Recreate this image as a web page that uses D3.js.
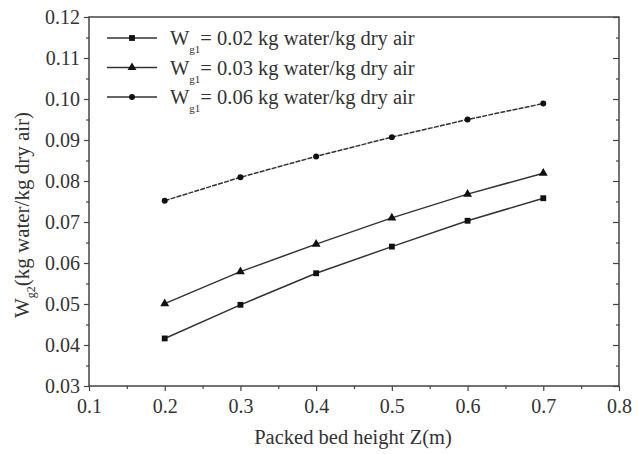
<!DOCTYPE html>
<html>
<head>
<meta charset="utf-8">
<script src="https://cdn.jsdelivr.net/npm/d3@7"></script>
<style>
  body { margin: 0; background: #fff; }
</style>
</head>
<body>
<svg id="chart" width="638" height="454"></svg>
<script>
// Chart data.
const heights = [0.2, 0.3, 0.4, 0.5, 0.6, 0.7];
const wg2Low = [0.0416, 0.0498, 0.0575, 0.0640, 0.0703, 0.0758];   // Wg1 = 0.02
const wg2Mid = [0.0501, 0.0579, 0.0646, 0.0710, 0.0768, 0.0819];   // Wg1 = 0.03
const wg2High = [0.0752, 0.0809, 0.0860, 0.0907, 0.0950, 0.0989];  // Wg1 = 0.06
const seriesLabels = ["0.02", "0.03", "0.06"];
const seriesShapes = ["square", "triangle", "circle"];
const xTicks = [0.1, 0.2, 0.3, 0.4, 0.5, 0.6, 0.7, 0.8];
const yTicks = [0.03, 0.04, 0.05, 0.06, 0.07, 0.08, 0.09, 0.10, 0.11, 0.12];

const FONT = '"Liberation Serif"';
const TEXT_COLOR = "#333";

const svg = d3.select("#chart");
const margin = { left: 89, right: 18, top: 17, bottom: 68 };
const width = 638, height = 454;
const axisColor = "#444";

const x = d3.scaleLinear().domain([0.1, 0.8]).range([margin.left, width - margin.right - 1]);
const y = d3.scaleLinear().domain([0.03, 0.12]).range([height - margin.bottom, margin.top]);

// Frame
svg.append("rect")
    .attr("x", x(0.1)).attr("y", y(0.12))
    .attr("width", x(0.8) - x(0.1)).attr("height", y(0.03) - y(0.12))
    .attr("fill", "none").attr("stroke", axisColor).attr("stroke-width", 1.5);

function minorTicks(major) {
    let out = [];
    for (let i = 0; i < major.length - 1; i++) out.push((major[i] + major[i + 1]) / 2);
    return out;
}

// Bottom axis
const xAxis = svg.append("g").attr("transform", `translate(0,${y(0.03)})`);
xAxis.call(d3.axisBottom(x).tickValues(xTicks).tickSize(5).tickFormat(d3.format(".1f")));
xAxis.append("g").call(d3.axisBottom(x).tickValues(minorTicks(xTicks)).tickSize(3).tickFormat(""));

// Left axis
const yAxis = svg.append("g").attr("transform", `translate(${x(0.1)},0)`);
yAxis.call(d3.axisLeft(y).tickValues(yTicks).tickSize(5).tickFormat(d3.format(".2f")));
yAxis.append("g").call(d3.axisLeft(y).tickValues(minorTicks(yTicks)).tickSize(3).tickFormat(""));

// Right axis (inward ticks)
const rAxis = svg.append("g").attr("transform", `translate(${x(0.8)},0)`);
rAxis.call(d3.axisLeft(y).tickValues(yTicks).tickSize(6).tickFormat(""));
rAxis.append("g").call(d3.axisLeft(y).tickValues(minorTicks(yTicks)).tickSize(3).tickFormat(""));

svg.selectAll(".domain").remove();
svg.selectAll(".tick line").attr("stroke", axisColor).attr("stroke-width", 1.2);
xAxis.attr("font-family", FONT);
yAxis.attr("font-family", FONT);
xAxis.selectAll(".tick text").attr("font-size", 20).attr("dy", "0.95em").attr("fill", TEXT_COLOR);
yAxis.selectAll(".tick text").attr("font-size", 20).attr("dy", "0.33em").attr("dx", "-1").attr("fill", TEXT_COLOR);

// Axis titles
svg.append("text")
    .attr("x", 353).attr("y", 444)
    .attr("text-anchor", "middle").attr("font-size", 20.5)
    .attr("font-family", FONT).attr("fill", TEXT_COLOR)
    .text("Packed bed height Z(m)");

const yTitle = svg.append("text")
    .attr("transform", `translate(29,215) rotate(-90)`)
    .attr("text-anchor", "middle").attr("font-size", 21)
    .attr("font-family", FONT).attr("fill", TEXT_COLOR);
yTitle.append("tspan").text("W");
yTitle.append("tspan").attr("font-size", 12).attr("dy", 6).text("g2");
yTitle.append("tspan").attr("dy", -6).text("(kg water/kg dry air)");

// Series
const series = [wg2Low, wg2Mid, wg2High].map((vals, i) => ({
    label: seriesLabels[i],
    shape: seriesShapes[i],
    points: heights.map((h, j) => ({ h: h, v: vals[j] }))
}));

const symbolType = { square: d3.symbolSquare, triangle: d3.symbolTriangle, circle: d3.symbolCircle };
const symbolSize = { square: 34, triangle: 34, circle: 28 };

const line = d3.line().x(d => x(d.h)).y(d => y(d.v));

series.forEach(s => {
    svg.append("path")
        .datum(s.points)
        .attr("d", line)
        .attr("fill", "none")
        .attr("stroke", "#333")
        .attr("stroke-width", 1.5)
        .attr("stroke-dasharray", s.shape === "circle" ? "5,1.2" : null);

    svg.selectAll(null)
        .data(s.points)
        .enter()
        .append("path")
        .attr("d", d3.symbol().type(symbolType[s.shape]).size(symbolSize[s.shape]))
        .attr("transform", d => `translate(${x(d.h)},${y(d.v)})`)
        .attr("fill", "#111");
});

// Legend
const legend = svg.append("g").attr("font-family", FONT);
series.forEach((s, i) => {
    const ly = 38 + i * 29.5;
    legend.append("line")
        .attr("x1", 107).attr("x2", 157)
        .attr("y1", ly).attr("y2", ly)
        .attr("stroke", "#333").attr("stroke-width", 1.6);
    legend.append("path")
        .attr("d", d3.symbol().type(symbolType[s.shape]).size(symbolSize[s.shape]))
        .attr("transform", `translate(132,${ly})`)
        .attr("fill", "#111");
    const t = legend.append("text")
        .attr("x", 170).attr("y", ly + 7)
        .attr("font-size", 20.5).attr("fill", TEXT_COLOR);
    t.append("tspan").text("W");
    t.append("tspan").attr("font-size", 11).attr("dy", 8).text("g1");
    t.append("tspan").attr("dy", -8).text(`= ${s.label} kg water/kg dry air`);
});
</script>
</body>
</html>
